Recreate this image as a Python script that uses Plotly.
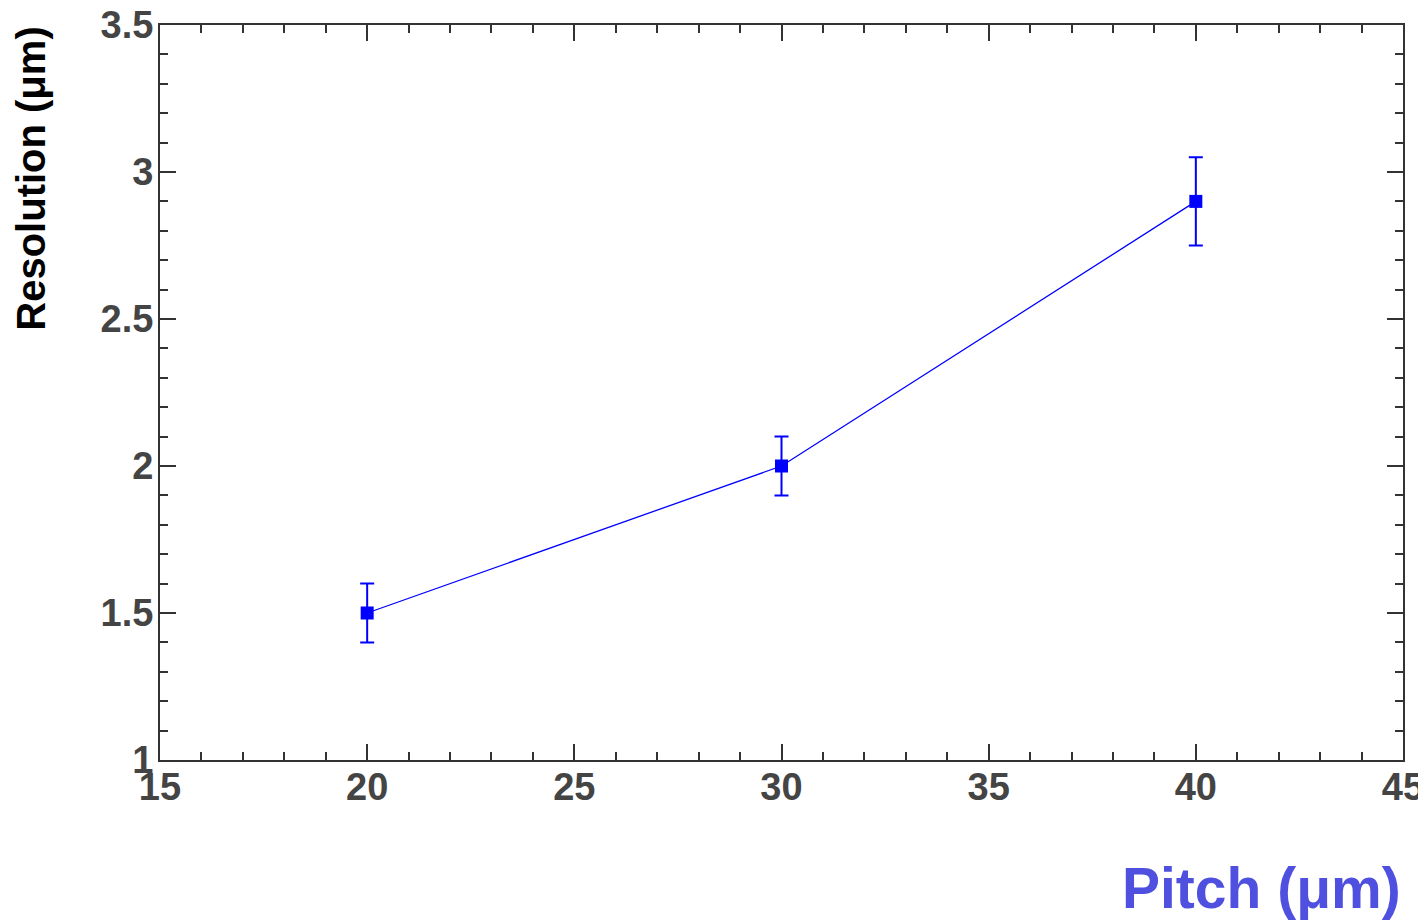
import plotly.graph_objects as go

pitch = [20, 30, 40]
resolution = [1.5, 2.0, 2.9]
res_err = [0.1, 0.1, 0.15]

x_range = [15, 45]
y_range = [1, 3.5]
x_ticks = [15, 20, 25, 30, 35, 40, 45]
y_ticks = [1, 1.5, 2, 2.5, 3, 3.5]

fig = go.Figure()
fig.add_trace(go.Scatter(
    x=pitch, y=resolution,
    mode="lines+markers",
    line=dict(color="#0000ff", width=1.3),
    marker=dict(symbol="square", size=13, color="#0000ff"),
    error_y=dict(type="data", array=res_err, visible=True, color="#0000ff",
                 thickness=2, width=7),
    showlegend=False,
))

tickfont = dict(family="Liberation Sans, Arial, sans-serif", size=38, color="#444444",
                weight="bold")
axis_common = dict(
    showgrid=False, zeroline=False,
    showline=True, linecolor="#333333", linewidth=2,
    ticks="inside", ticklen=16, tickwidth=2, tickcolor="#333333",
    mirror="allticks",
    tickfont=tickfont,
    automargin=False,
    ticklabeloverflow="allow",
)

fig.update_xaxes(range=x_range, tickvals=x_ticks,
                 ticktext=[str(v) for v in x_ticks],
                 minor=dict(ticks="inside", ticklen=8, tickwidth=2, dtick=1,
                            tickcolor="#333333", showgrid=False),
                 ticklabelstandoff=-8,
                 **axis_common)
fig.update_yaxes(range=y_range, tickvals=y_ticks,
                 ticktext=[f"{v:g}" for v in y_ticks],
                 minor=dict(ticks="inside", ticklen=8, tickwidth=2, dtick=0.1,
                            tickcolor="#333333", showgrid=False),
                 ticklabelstandoff=-3,
                 **axis_common)

fig.add_annotation(text="<b>Pitch (μm)</b>", xref="paper", yref="paper",
                   x=1, y=-0.174, xanchor="right", yanchor="middle", showarrow=False,
                   font=dict(family="Liberation Sans, Arial, sans-serif", size=57, color="#5050e0"))
fig.add_annotation(text="<b>Resolution (μm)</b>", xref="paper", yref="paper",
                   x=-0.104, y=1.0, xanchor="center", yanchor="top", textangle=-90, showarrow=False,
                   font=dict(family="Liberation Sans, Arial, sans-serif", size=40, color="#000000"))

fig.update_layout(
    width=1418, height=915,
    margin=dict(l=152, r=23, t=17, b=163),
    plot_bgcolor="white", paper_bgcolor="white",
)

fig.write_html("out.html")
